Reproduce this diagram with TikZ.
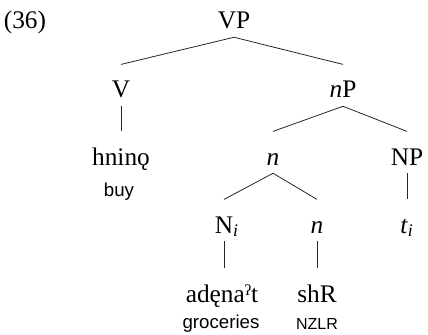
\documentclass[tikz,border=0pt]{standalone}
\usepackage{fontspec}
\setmainfont{Liberation Serif}
\newfontfamily\glossfont{Liberation Sans}
\tikzset{
  cat/.style={font=\fontsize{19}{22}\selectfont, inner sep=0pt, anchor=base,
    text height=25pt, text depth=6pt},
  gloss/.style={font=\glossfont\fontsize{14}{16}\selectfont, inner sep=0pt, anchor=base},
  branch/.style={line width=0.6pt, black!85}
}

\begin{document}
\begin{tikzpicture}[x=0.75pt,y=-0.75pt]
  \useasboundingbox (0,0) rectangle (428,335);
  \node[cat] (ex) at (25,29) {(36)};
  % categories
  \node[cat] (VP) at (234,29) {VP};
  \node[cat] (V) at (121,98) {V};
  \node[cat] (nP) at (343,98) {\textit{n}P};
  \node[cat] (n) at (273,165) {\textit{n}};
  \node[cat] (NP) at (407,165) {NP};
  \node[cat] (Ni) at (224,233) {N\rlap{\textsubscript{\itshape i}}};
  \node[cat] (nz) at (317,233) {\textit{n}};
  \node[cat] (ti) at (407,233) {\textit{t}\textsubscript{\itshape i}};
  % words and glosses
  \node[cat] (hnino) at (121,165) {hninǫ};
  \node[gloss] (buy) at (119,196) {buy};
  \node[cat] (adena) at (222,302) {adęnaˀt};
  \node[gloss] (groc) at (221,328) {groceries};
  \node[cat] (shR) at (317,302) {shR};
  \node[gloss,font=\glossfont\fontsize{12}{14}\selectfont] (nzlr) at (317,329) {NZLR};
  % branches
  \draw[branch] (VP.south) -- (V.north);
  \draw[branch] (VP.south) -- (nP.north);
  \draw[branch] (V.south) -- (hnino.north);
  \draw[branch] (nP.south) -- (n.north);
  \draw[branch] (nP.south) -- (NP.north);
  \draw[branch] (n.south) -- (Ni.north);
  \draw[branch] (n.south) -- (nz.north);
  \draw[branch] (NP.south) -- (ti.north);
  \draw[branch] (Ni.south) -- (Ni.south |- adena.north);
  \draw[branch] (nz.south) -- (shR.north);
\end{tikzpicture}
\end{document}
